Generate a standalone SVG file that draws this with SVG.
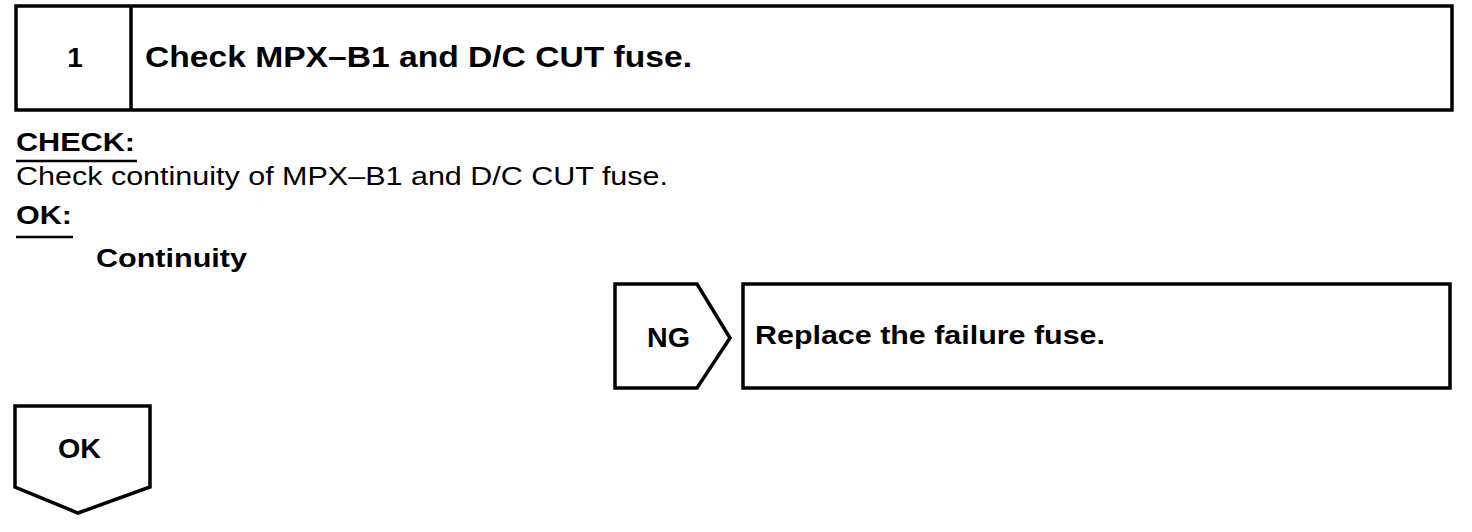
<svg xmlns="http://www.w3.org/2000/svg" width="1472" height="532" viewBox="0 0 1472 532">
<style>
.box{fill:#fff;stroke:#000;stroke-width:3.5;stroke-linejoin:miter}
.b{font-family:"Liberation Sans",Arial,sans-serif;font-weight:bold;fill:#000}
.r{font-family:"Liberation Sans",Arial,sans-serif;fill:#000}
.ul{stroke:#000;stroke-width:2.5}
</style>
<rect width="1472" height="532" fill="#fff"/>
<g id="step1">
<rect class="box" x="16" y="6" width="1436" height="104"/>
<line class="box" x1="131" y1="6" x2="131" y2="110"/>
<text class="b" x="75" y="67" font-size="28" text-anchor="middle">1</text>
<text class="b" x="145" y="67" font-size="30" textLength="547" lengthAdjust="spacingAndGlyphs">Check MPX–B1 and D/C CUT fuse.</text>
</g>
<g id="check">
<text class="b" x="16" y="151" font-size="25" textLength="119" lengthAdjust="spacingAndGlyphs">CHECK:</text>
<line class="ul" x1="16" y1="161" x2="137" y2="161"/>
<text class="r" x="16" y="185" font-size="25" textLength="652" lengthAdjust="spacingAndGlyphs">Check continuity of MPX–B1 and D/C CUT fuse.</text>
<text class="b" x="16" y="224" font-size="25" textLength="56" lengthAdjust="spacingAndGlyphs">OK:</text>
<line class="ul" x1="16" y1="237" x2="73" y2="237"/>
<text class="b" x="96" y="267" font-size="25" textLength="151" lengthAdjust="spacingAndGlyphs">Continuity</text>
</g>
<g id="ng">
<polygon class="box" points="615,284 697,284 730,338 697,388 615,388"/>
<text class="b" x="647" y="347" font-size="28" textLength="43" lengthAdjust="spacingAndGlyphs">NG</text>
</g>
<g id="replace">
<rect class="box" x="743" y="284" width="707" height="104"/>
<text class="b" x="755" y="344" font-size="25" textLength="350" lengthAdjust="spacingAndGlyphs">Replace the failure fuse.</text>
</g>
<g id="ok">
<polygon class="box" points="15,406 150,406 150,487 78,513 15,487"/>
<text class="b" x="58" y="458" font-size="28" textLength="43" lengthAdjust="spacingAndGlyphs">OK</text>
</g>
<g id="connectors"></g>
</svg>
